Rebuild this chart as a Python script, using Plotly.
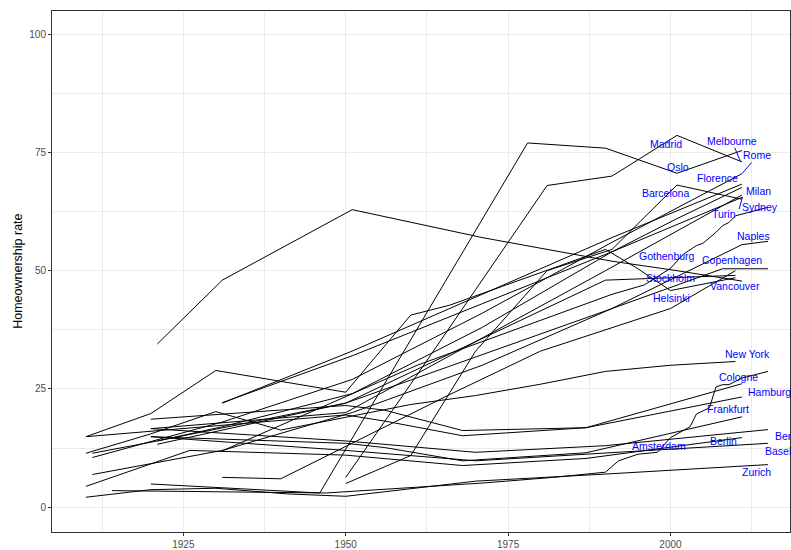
import plotly.graph_objects as go

# Homeownership rate (%) by city and census/survey year
cities = {
    "Madrid": ([1950, 1960, 1970, 1981, 1991, 2001, 2011], [6.3, 26.0, 46.0, 68.0, 70.0, 78.6, 73.0]),
    "Oslo": ([1920, 1946, 1978, 1990, 2001, 2011], [4.9, 3.0, 77.0, 75.9, 70.6, 75.4]),
    "Barcelona": ([1950, 1960, 1970, 1981, 1991, 2001, 2011], [5.0, 10.9, 33.0, 50.0, 54.5, 68.1, 65.1]),
    "Vancouver": ([1921, 1931, 1951, 1971, 1991, 2001, 2011], [34.5, 48.0, 62.9, 57.0, 52.0, 50.0, 47.8]),
    "Stockholm": ([1910, 1920, 1930, 1950, 1960, 1966, 1990, 1995, 2000, 2010], [14.9, 19.8, 28.9, 24.3, 40.6, 42.7, 54.5, 50.4, 45.8, 48.5]),
    "Copenhagen": ([1921, 1950, 1990, 2008, 2015], [13.3, 22.0, 41.5, 50.4, 50.4]),
    "Milan": ([1911, 1921, 1931, 1951, 1961, 1971, 1981, 1991, 2001, 2011], [11.4, 14.0, 17.0, 24.0, 31.0, 38.0, 46.0, 54.0, 61.0, 67.6]),
    "Turin": ([1931, 1951, 1971, 1991, 2011], [22.1, 32.0, 43.0, 54.0, 65.5]),
    "Florence": ([1931, 1951, 1971, 1991, 2011], [22.0, 33.0, 45.0, 57.0, 68.3]),
    "Rome": ([1911, 1931, 1951, 1971, 1991, 2011], [10.5, 18.0, 27.0, 41.0, 56.0, 70.5]),
    "Naples": ([1911, 1931, 1951, 1971, 1991, 2011, 2015], [6.9, 12.0, 20.0, 30.0, 42.0, 55.5, 56.2]),
    "Sydney": ([1931, 1961, 1991, 1996, 2000, 2002, 2004, 2005, 2007, 2008, 2009, 2010, 2015],
               [11.9, 30.0, 45.0, 47.0, 50.5, 53.5, 55.3, 55.8, 58.1, 59.5, 60.2, 61.6, 63.4]),
    "Helsinki": ([1931, 1940, 1966, 1980, 2000, 2010], [6.3, 6.0, 23.8, 33.0, 42.0, 50.0]),
    "Gothenburg": ([1920, 1950, 1970, 1990, 2010], [16.6, 20.0, 35.0, 48.0, 49.0]),
    "New York": ([1910, 1920, 1930, 1940, 1950, 1960, 1970, 1980, 1990, 2000, 2010], [11.4, 15.5, 20.2, 16.3, 19.0, 21.7, 23.6, 26.0, 28.7, 30.0, 30.8]),
    "Cologne": ([1920, 1950, 1956, 1968, 1987, 2011], [18.6, 21.5, 20.5, 16.2, 16.8, 26.1]),
    "Hamburg": ([1910, 1950, 1956, 1968, 1987, 2011], [14.9, 19.5, 18.2, 15.1, 16.8, 23.3]),
    "Frankfurt": ([1920, 1950, 1956, 1968, 1987, 2011], [14.9, 13.5, 12.6, 9.8, 11.5, 19.1]),
    "Berlin": ([1910, 1926, 1950, 1968, 1987, 2011], [4.4, 12.0, 11.0, 8.8, 10.3, 14.7]),
    "Bern": ([1920, 1950, 1970, 1990, 2015], [16.6, 14.0, 11.6, 13.0, 16.4]),
    "Basel": ([1920, 1950, 1970, 1990, 2015], [14.9, 12.0, 9.8, 11.5, 13.5]),
    "Zurich": ([1910, 1920, 1930, 1941, 1950, 1970, 1990, 2015], [2.1, 3.7, 4.0, 2.8, 2.3, 5.5, 7.0, 9.0]),
    "Amsterdam": ([1914, 1947, 1971, 1982, 1990, 1992, 1995, 1998, 2000, 2003, 2004, 2006, 2007, 2008, 2009, 2011, 2015],
                  [3.5, 3.0, 5.1, 6.3, 7.4, 9.8, 11.2, 11.6, 14.7, 17.0, 19.7, 21.0, 25.4, 25.9, 25.9, 27.3, 28.7]),
    "Melbourne": ([1921, 1950, 1970, 1990, 2011], [14.0, 22.0, 35.0, 50.0, 66.0]),
}

# Label anchor points (year, rate); "l" labels are anchored by their left edge
label_pos = {
    "Madrid": (1999.3, 76.7, "c"), "Melbourne": (2009.5, 77.5, "c"), "Oslo": (2001.1, 71.9, "c"),
    "Rome": (2013.3, 74.4, "c"), "Florence": (2007.2, 69.6, "c"), "Barcelona": (1999.3, 66.4, "c"),
    "Milan": (2013.6, 66.8, "c"), "Sydney": (2013.8, 63.5, "c"), "Turin": (2008.2, 61.9, "c"),
    "Naples": (2012.8, 57.3, "c"), "Gothenburg": (1999.5, 53.1, "c"), "Copenhagen": (2009.5, 52.2, "c"),
    "Stockholm": (2000.0, 48.5, "c"), "Vancouver": (2010.0, 46.8, "c"), "Helsinki": (2000.1, 44.3, "c"),
    "New York": (2011.8, 32.4, "c"), "Cologne": (2010.5, 27.5, "c"), "Hamburg": (2011.7, 24.4, "l"),
    "Frankfurt": (2008.8, 20.7, "c"), "Bern": (2015.8, 15.1, "l"), "Berlin": (2008.2, 14.0, "c"),
    "Basel": (2014.2, 11.9, "l"), "Amsterdam": (1998.3, 13.0, "c"), "Zurich": (2013.3, 7.4, "c"),
}
# Leader segments: (label end, data point)
leaders = {
    "Melbourne": ((2009.8, 76.3), (2010.8, 73.0)),
    "Rome": ((2012.7, 73.2), (2011.0, 70.5)),
    "Turin": ((2010.5, 62.7), (2011.1, 65.6)),
}

label_font = dict(family="Liberation Sans, Arial, sans-serif", size=10.5, color="#0000FF")

fig = go.Figure()
for name, (yrs, vals) in cities.items():
    fig.add_trace(go.Scatter(x=yrs, y=vals, mode="lines", name=name,
                             line=dict(color="black", width=1.0), showlegend=False,
                             hoverinfo="skip"))

for name, (lx, ly, anchor) in label_pos.items():
    fig.add_annotation(x=lx, y=ly, text=name, showarrow=False,
                       xanchor="left" if anchor == "l" else "center",
                       font=label_font)
for name, ((x0, y0), (x1, y1)) in leaders.items():
    fig.add_annotation(x=x1, y=y1, ax=x0, ay=y0, axref="x", ayref="y", text="",
                       showarrow=True, arrowhead=0, arrowwidth=1, arrowcolor="#0000FF")

fig.add_annotation(text="Homeownership rate", xref="paper", yref="paper", x=-0.047, y=0.5,
                   textangle=-90, showarrow=False, xanchor="center", yanchor="middle",
                   font=dict(family="Liberation Sans, Arial, sans-serif", size=12.5, color="black"))

grid = "#EBEBEB"
axis_common = dict(
    showgrid=True, gridcolor=grid, gridwidth=1,
    ticks="outside", ticklen=3, tickcolor="#333333",
    showline=True, linecolor="#333333", linewidth=1, mirror=True,
    tickfont=dict(size=10, color="#4D4D4D"), zeroline=False,
)
fig.update_layout(
    width=791, height=550,
    margin=dict(l=52, r=0, t=11, b=15),
    plot_bgcolor="white", paper_bgcolor="white",
    font=dict(family="Liberation Sans, Arial, sans-serif"),
    xaxis=dict(range=[1904.78, 2018.40], tickvals=[1925, 1950, 1975, 2000],
               minor=dict(showgrid=True, gridcolor=grid, gridwidth=0.6, tick0=1912.5, dtick=25),
               **axis_common),
    yaxis=dict(range=[-5.25, 104.9], tickvals=[0, 25, 50, 75, 100],
               minor=dict(showgrid=True, gridcolor=grid, gridwidth=0.6, tick0=12.5, dtick=25),
               **axis_common),
)

fig.write_html("out.html")
